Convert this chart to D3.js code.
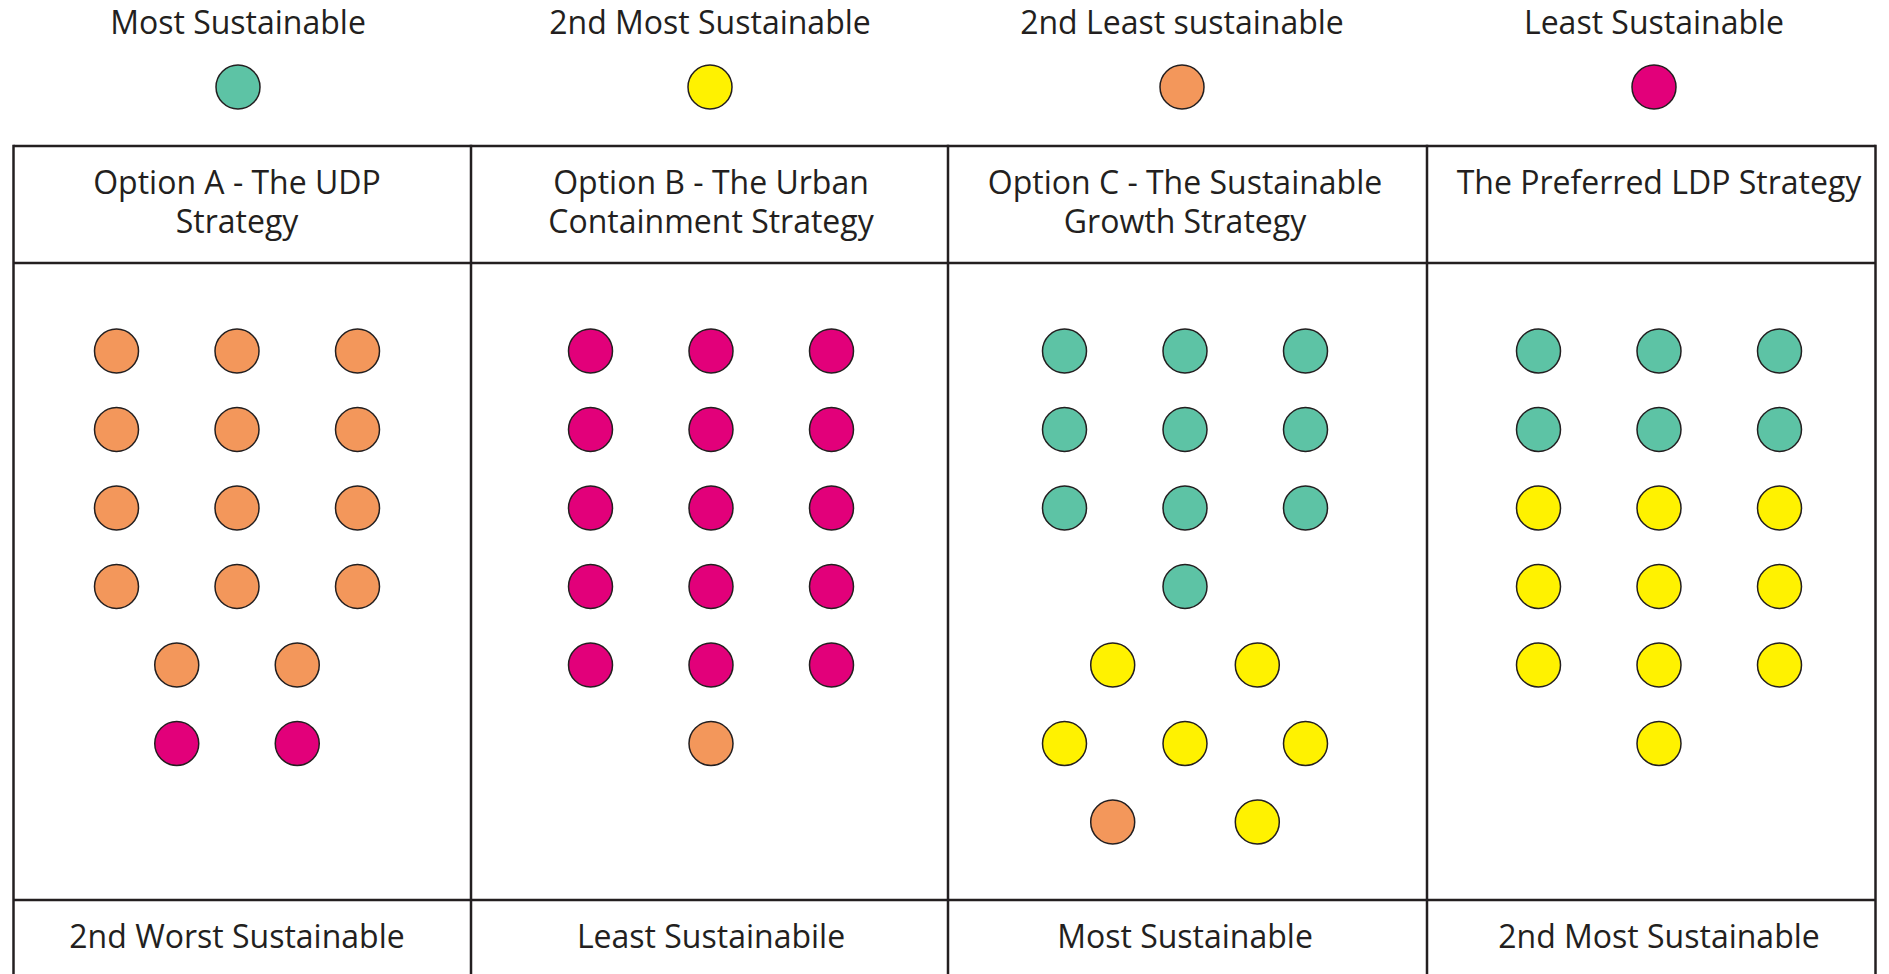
<!DOCTYPE html>
<html lang="en">

<head>
  <meta charset="utf-8">
  <title>Sustainability of LDP strategy options</title>
  <script type="text/javascript" src="https://cdn.jsdelivr.net/npm/d3@7"></script>
  <style type="text/css">
    body { margin: 0; background: #fff; }
    text { font-family: "Open Sans", "DejaVu Sans", sans-serif; font-weight: 500; fill: #231f20; }
  </style>
</head>

<body>
  <script type="text/javascript">

    // Width og height
    const w = 1889;
    const h = 974;

    // Legend categories and their colours
    const categories = ["Most Sustainable", "2nd Most Sustainable", "2nd Least sustainable", "Least Sustainable"];
    const catColors = ["#5dc3a5", "#fff200", "#f3975b", "#e2007a"];

    // Options (column headers, split in lines) and overall rating (footer)
    const options = ["A", "B", "C", "D"];
    const headers = [
      ["Option A - The UDP", "Strategy"],
      ["Option B - The Urban", "Containment Strategy"],
      ["Option C - The Sustainable", "Growth Strategy"],
      ["The Preferred LDP Strategy"]
    ];
    const ratings = ["2nd Worst Sustainable", "Least Sustainabile", "Most Sustainable", "2nd Most Sustainable"];

    // Dots per option, row by row, as index into categories
    const dotsA = [[2, 2, 2], [2, 2, 2], [2, 2, 2], [2, 2, 2], [2, 2], [3, 3]];
    const dotsB = [[3, 3, 3], [3, 3, 3], [3, 3, 3], [3, 3, 3], [3, 3, 3], [2]];
    const dotsC = [[0, 0, 0], [0, 0, 0], [0, 0, 0], [0], [1, 1], [1, 1, 1], [2, 1]];
    const dotsD = [[0, 0, 0], [0, 0, 0], [1, 1, 1], [1, 1, 1], [1, 1, 1], [1]];
    const dotRows = [dotsA, dotsB, dotsC, dotsD];

    // Layout
    const colEdges = [13.5, 471, 948, 1427, 1875.5];
    const tableTop = 146, headBottom = 263, footTop = 900;
    const r = 22;
    const fontSize = "32px";
    const pairSpread = { A: 0.5, B: 0.5, C: 0.6, D: 0.5 };

    const svg = d3.select("body")
      .append("svg")
      .attr("width", w)
      .attr("height", h);

    // Scales
    const xCol = d3.scalePoint().domain(options).range([237, 1659]);
    const xLeg = d3.scalePoint().domain(categories).range([238, 1654]);
    const xSlot = d3.scaleLinear().domain([-1, 1]).range([-120.5, 120.5]);
    const yRow = d3.scaleLinear().domain([0, 6]).range([351, 822]);
    const color = d3.scaleOrdinal().domain(d3.range(categories.length)).range(catColors);

    // Legend
    const leg = svg.append("g").selectAll("g")
      .data(categories)
      .enter()
      .append("g")
      .attr("transform", function (d) { return "translate(" + xLeg(d) + ",0)"; });
    leg.append("text")
      .attr("y", 23)
      .attr("dy", "0.35em")
      .attr("text-anchor", "middle")
      .style("font-size", fontSize)
      .text(function (d) { return d; });
    leg.append("circle")
      .attr("cy", 87)
      .attr("r", r)
      .attr("fill", function (d, i) { return color(i); })
      .attr("stroke", "#231f20")
      .attr("stroke-width", 1.5);

    // Table grid
    const grid = svg.append("g")
      .attr("stroke", "#231f20")
      .attr("stroke-width", 2.5);
    grid.selectAll("line.h")
      .data([tableTop, headBottom, footTop])
      .enter()
      .append("line")
      .attr("x1", colEdges[0])
      .attr("x2", colEdges[colEdges.length - 1])
      .attr("y1", function (d) { return d; })
      .attr("y2", function (d) { return d; });
    grid.selectAll("line.v")
      .data(colEdges)
      .enter()
      .append("line")
      .attr("x1", function (d) { return d; })
      .attr("x2", function (d) { return d; })
      .attr("y1", tableTop - 1.25)
      .attr("y2", h + 10);

    // Column headers
    svg.append("g").selectAll("text")
      .data(options)
      .enter()
      .append("text")
      .attr("text-anchor", "middle")
      .style("font-size", fontSize)
      .each(function (d, i) {
        d3.select(this).selectAll("tspan")
          .data(headers[i])
          .enter()
          .append("tspan")
          .attr("x", xCol(d))
          .attr("y", function (t, j) { return 183 + j * 39; })
          .attr("dy", "0.35em")
          .text(function (t) { return t; });
      });

    // Footer ratings
    svg.append("g").selectAll("text")
      .data(options)
      .enter()
      .append("text")
      .attr("x", function (d) { return xCol(d); })
      .attr("y", 937)
      .attr("dy", "0.35em")
      .attr("text-anchor", "middle")
      .style("font-size", fontSize)
      .text(function (d, i) { return ratings[i]; });

    // Flatten the dot rows to points
    const dots = [];
    options.forEach(function (opt, i) {
      dotRows[i].forEach(function (row, ri) {
        let slots = [0];
        if (row.length === 3) slots = [-1, 0, 1];
        else if (row.length === 2) slots = [-pairSpread[opt], pairSpread[opt]];
        row.forEach(function (cat, k) {
          dots.push({ opt: opt, row: ri, slot: slots[k], cat: cat });
        });
      });
    });

    svg.append("g").selectAll("circle")
      .data(dots)
      .enter()
      .append("circle")
      .attr("cx", function (d) { return xCol(d.opt) + xSlot(d.slot); })
      .attr("cy", function (d) { return yRow(d.row); })
      .attr("r", r)
      .attr("fill", function (d) { return color(d.cat); })
      .attr("stroke", "#231f20")
      .attr("stroke-width", 1.5);

  </script>
</body>

</html>
